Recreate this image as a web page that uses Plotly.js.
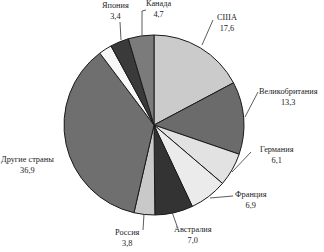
<!DOCTYPE html>
<html>
<head>
<meta charset="utf-8">
<script src="https://cdn.plot.ly/plotly-3.0.1.min.js"></script>
<style>html,body{margin:0;padding:0;background:#fff;}#chart{width:324px;height:252px;}</style>
</head>
<body>
<div id="chart"></div>
<script>
// Data
var countries = ['США', 'Великобритания', 'Германия', 'Франция', 'Австралия', 'Россия', 'Другие страны', '', 'Япония', 'Канада'];
var shares = [17.6, 13.3, 6.1, 6.9, 7.0, 3.8, 36.9, 2.4, 3.4, 4.7];
var sliceColors = ['#cbcbcb', '#6b6b6b', '#e2e2e2', '#ebebeb', '#333333', '#c9c9c9', '#6f6f6f', '#f7f7f7', '#3a3a3a', '#7b7b7b'];

// Label placement (pixel positions of label centres and leader lines)
var labelPos = [[227,23],[288,97],[277,155],[251,200],[193,235],[127,238],[27,165],null,[115,11],[158,9]];
var leaders = [[[213,20],[202,45]],[[258,92],[245,117]],[[251,152],[232,172]],[[233,196],[210,198]],[[177,226],[172,212]],[[143,230],[144,214]],null,null,[[120,22],[121,40]],[[146,10],[142,11],[142,35]]];

var W = 324, H = 252;
function px(x){return x / W;}
function py(y){return 1 - y / H;}

var annotations = [];
var shapes = [];
countries.forEach(function(c, i){
  if (!labelPos[i]) return;
  annotations.push({x: px(labelPos[i][0]), y: py(labelPos[i][1]), xref:'paper', yref:'paper', showarrow:false,
    text: c + '<br>' + shares[i].toFixed(1).replace('.', ','), xanchor:'center', yanchor:'middle',
    font:{family:'Liberation Serif', size:8.3, color:'#222'}});
  var pts = leaders[i];
  if (!pts) return;
  for (var k = 0; k < pts.length - 1; k++) {
    shapes.push({type:'line', xref:'paper', yref:'paper',
      x0: px(pts[k][0]), y0: py(pts[k][1]), x1: px(pts[k+1][0]), y1: py(pts[k+1][1]),
      line:{color:'#333', width:0.8}});
  }
});

var trace = {
  type: 'pie',
  labels: countries,
  values: shares,
  sort: false,
  direction: 'clockwise',
  rotation: 0,
  textinfo: 'none',
  hoverinfo: 'label+value',
  marker: {colors: sliceColors, line: {color: '#1a1a1a', width: 1}},
  domain: {x: [63/W, 245/W], y: [1 - 215/H, 1 - 35/H]},
  showlegend: false
};

Plotly.newPlot('chart', [trace], {
  width: W, height: H,
  margin: {l:0, r:0, t:0, b:0},
  paper_bgcolor: '#fff',
  showlegend: false,
  annotations: annotations,
  shapes: shapes
}, {displayModeBar: false, staticPlot: true});
</script>
</body>
</html>
